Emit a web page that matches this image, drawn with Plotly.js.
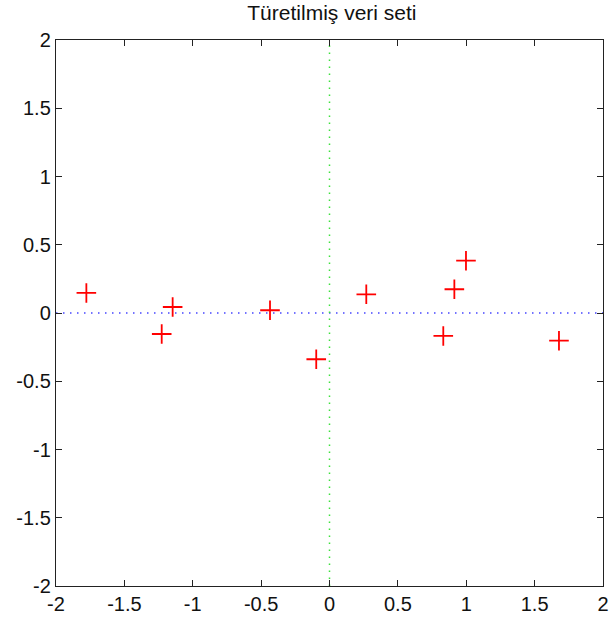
<!DOCTYPE html>
<html>
<head>
<meta charset="utf-8">
<script src="https://cdn.plot.ly/plotly-3.0.1.min.js"></script>
<style>
  html, body { margin: 0; padding: 0; background: #fff; }
  #plot { width: 609px; height: 619px; }
</style>
</head>
<body>
<div id="plot"></div>
<script>
// Derived data set: sample points
const pointsX = [-1.778, -1.227, -1.147, -0.435, -0.097, 0.269, 0.832, 0.913, 0.998, 1.678];
const pointsY = [0.147, -0.154, 0.044, 0.020, -0.339, 0.137, -0.168, 0.174, 0.383, -0.203];

// Reference axes through the origin
const hLineX = [-2, 2];
const hLineY = [0, 0];
const vLineX = [0, 0];
const vLineY = [-2, 2];

const tickVals = [-2, -1.5, -1, -0.5, 0, 0.5, 1, 1.5, 2];
const tickText = ['-2', '-1.5', '-1', '-0.5', '0', '0.5', '1', '1.5', '2'];

const traces = [
  {
    x: hLineX, y: hLineY, mode: 'lines', hoverinfo: 'skip',
    line: { color: 'rgb(70,70,255)', width: 1.5, dash: '1.5px,5.5px' }
  },
  {
    x: vLineX, y: vLineY, mode: 'lines', hoverinfo: 'skip',
    line: { color: 'rgb(60,225,60)', width: 1.5, dash: '1.5px,5.5px' }
  },
  {
    x: pointsX, y: pointsY, mode: 'markers',
    marker: { symbol: 'cross-thin', size: 14, color: 'red', line: { color: 'red', width: 1.8 } }
  }
];

const axisCommon = {
  range: [-2, 2],
  tickvals: tickVals,
  ticktext: tickText,
  ticks: 'inside',
  ticklen: 6,
  tickwidth: 1,
  tickcolor: '#222',
  showline: true,
  linecolor: '#222',
  linewidth: 1.2,
  mirror: 'allticks',
  showgrid: false,
  zeroline: false,
  tickfont: { family: 'Liberation Sans, Arial, sans-serif', size: 20, color: '#111' },
  fixedrange: true
};

const layout = {
  width: 609,
  height: 619,
  margin: { l: 56, r: 6, t: 40, b: 33 },
  paper_bgcolor: '#fff',
  plot_bgcolor: '#fff',
  showlegend: false,
  title: {
    text: 'Türetilmiş veri seti',
    font: { family: 'Liberation Sans, Arial, sans-serif', size: 21, color: '#111' },
    x: 0.545, xanchor: 'center', y: 0.979, yanchor: 'middle'
  },
  xaxis: Object.assign({}, axisCommon, { ticklabelstandoff: 0 }),
  yaxis: Object.assign({}, axisCommon, { ticklabelstandoff: 0 })
};

Plotly.newPlot('plot', traces, layout, { staticPlot: true, displayModeBar: false });
</script>
</body>
</html>
